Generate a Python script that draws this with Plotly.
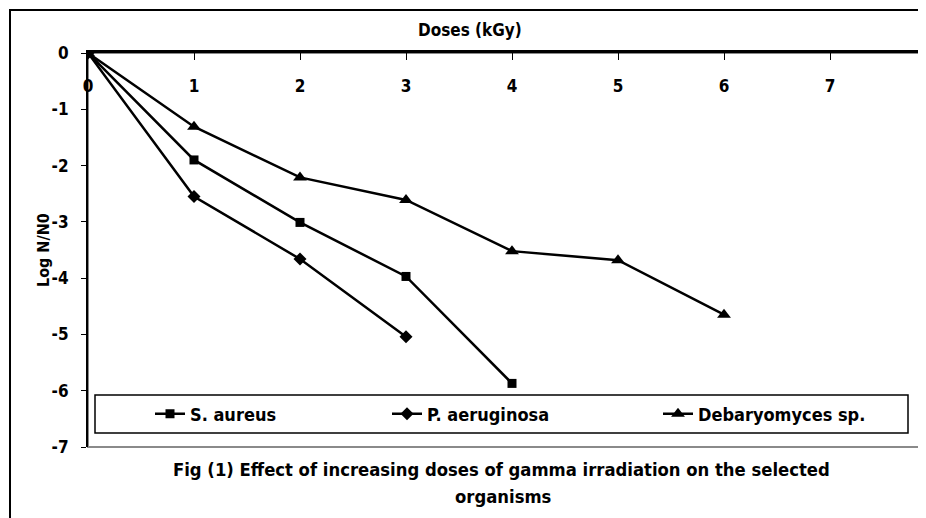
import plotly.graph_objects as go

# ---- data ----
doses_s_aureus = [0, 1, 2, 3, 4]
s_aureus = [0, -1.90, -3.01, -3.97, -5.87]
doses_p_aeruginosa = [0, 1, 2, 3]
p_aeruginosa = [0, -2.55, -3.66, -5.04]
doses_debaryomyces = [0, 1, 2, 3, 4, 5, 6]
debaryomyces = [0, -1.31, -2.21, -2.61, -3.52, -3.68, -4.65]
x_ticks = [0, 1, 2, 3, 4, 5, 6, 7]
x_tick_labels = ["0", "1", "2", "3", "4", "5", "6", "7"]
y_ticks = [0, -1, -2, -3, -4, -5, -6, -7]
y_tick_labels = ["0", "-1", "-2", "-3", "-4", "-5", "-6", "-7"]
series_names = ["S. aureus", "P. aeruginosa", "Debaryomyces sp."]

FONT = "Liberation Sans Narrow, Arial Narrow, DejaVu Sans Condensed, Liberation Sans, sans-serif"

OFF = 8  # page body margin
W, H = 918, 510
L, R, T, B = 80, 0, 45, 71
PW = W - L - R
PH = H - T - B


def px(x):  # page pixel x -> paper
    return (x - OFF - L) / PW


def py(y):  # page pixel y -> paper
    return (H - B - (y - OFF)) / PH


fig = go.Figure()

line = dict(color="black", width=2.5)
fig.add_trace(go.Scatter(x=doses_s_aureus, y=s_aureus, name=series_names[0], mode="lines+markers",
                         line=line, marker=dict(symbol="square", size=9, color="black"), legend="legend"))
fig.add_trace(go.Scatter(x=doses_p_aeruginosa, y=p_aeruginosa, name=series_names[1], mode="lines+markers",
                         line=line, marker=dict(symbol="diamond", size=10, color="black"), legend="legend2"))
fig.add_trace(go.Scatter(x=doses_debaryomyces, y=debaryomyces, name=series_names[2], mode="lines+markers",
                         line=line, marker=dict(symbol="triangle-up", size=12, color="black"), legend="legend3"))
# empty trace that carries the tick-label axis
fig.add_trace(go.Scatter(x=[], y=[], xaxis="x2", showlegend=False, hoverinfo="skip"))

xrange = [0, PW / 106.0]

fig.update_layout(
    width=W, height=H,
    margin=dict(l=L, r=R, t=T, b=B, pad=0, autoexpand=False),
    paper_bgcolor="white", plot_bgcolor="white",
    font=dict(family=FONT, size=17, color="black", weight="bold"),
    xaxis=dict(range=xrange, side="top", showline=True, linecolor="black", linewidth=2.5,
               ticks="inside", ticklen=7, tickwidth=1, tickcolor="black", automargin=False,
               tickvals=x_ticks, showticklabels=False, showgrid=False, zeroline=False),
    xaxis2=dict(range=xrange, overlaying="x", side="bottom", anchor="free", position=py(74),
                tickvals=x_ticks, ticktext=x_tick_labels, showline=False, ticks="", automargin=False,
                showgrid=False, zeroline=False,
                tickfont=dict(family=FONT, size=17, color="black", weight="bold")),
    yaxis=dict(range=[-7, 0], showline=True, linecolor="black", linewidth=2,
               ticks="outside", ticklen=5, tickwidth=1, tickcolor="black", automargin=False,
               tickvals=y_ticks, ticktext=y_tick_labels, showgrid=False, zeroline=False,
               ticklabelstandoff=9,
               tickfont=dict(family=FONT, size=17, color="black", weight="bold")),
    showlegend=True,
)

legend_common = dict(orientation="h", yanchor="middle", xanchor="left", bgcolor="rgba(0,0,0,0)",
                     borderwidth=0, font=dict(family=FONT, size=18, color="black", weight="bold"),
                     itemsizing="trace")
fig.update_layout(
    legend=dict(x=px(150), y=py(414), **legend_common),
    legend2=dict(x=px(387), y=py(414), **legend_common),
    legend3=dict(x=px(658), y=py(414), **legend_common),
)

shapes = [
    # outer chart border
    dict(type="rect", xref="paper", yref="paper", x0=px(10), x1=px(940), y0=py(530), y1=py(10),
         line=dict(color="black", width=2), fillcolor="rgba(0,0,0,0)", layer="below"),
    # plot area border (grey)
    dict(type="rect", xref="paper", yref="paper", x0=0, x1=px(940), y0=0, y1=1,
         line=dict(color="#8a8a8a", width=2), fillcolor="rgba(0,0,0,0)", layer="below"),
    # legend box
    dict(type="rect", xref="paper", yref="paper", x0=px(95), x1=px(908), y0=py(433), y1=py(395),
         line=dict(color="black", width=1.5), fillcolor="white", layer="above"),
]
fig.update_layout(shapes=shapes)

annotations = [
    dict(text="Doses (kGy)", xref="paper", yref="paper", x=px(470), y=py(30), showarrow=False,
         xanchor="center", yanchor="middle", font=dict(family=FONT, size=17, color="black", weight="bold")),
    dict(text="Log N/N0", xref="paper", yref="paper", x=px(43), y=py(250), showarrow=False, textangle=-90,
         xanchor="center", yanchor="middle", font=dict(family=FONT, size=16, color="black", weight="bold")),
    dict(text="Fig (1) Effect of increasing doses of gamma irradiation on the selected",
         xref="paper", yref="paper", x=px(501), y=py(469), showarrow=False,
         xanchor="center", yanchor="middle", font=dict(family=FONT, size=18.3, color="black", weight="bold")),
    dict(text="organisms", xref="paper", yref="paper", x=px(503), y=py(496), showarrow=False,
         xanchor="center", yanchor="middle", font=dict(family=FONT, size=18.3, color="black", weight="bold")),
]
fig.update_layout(annotations=annotations)

fig.write_html("out.html")
